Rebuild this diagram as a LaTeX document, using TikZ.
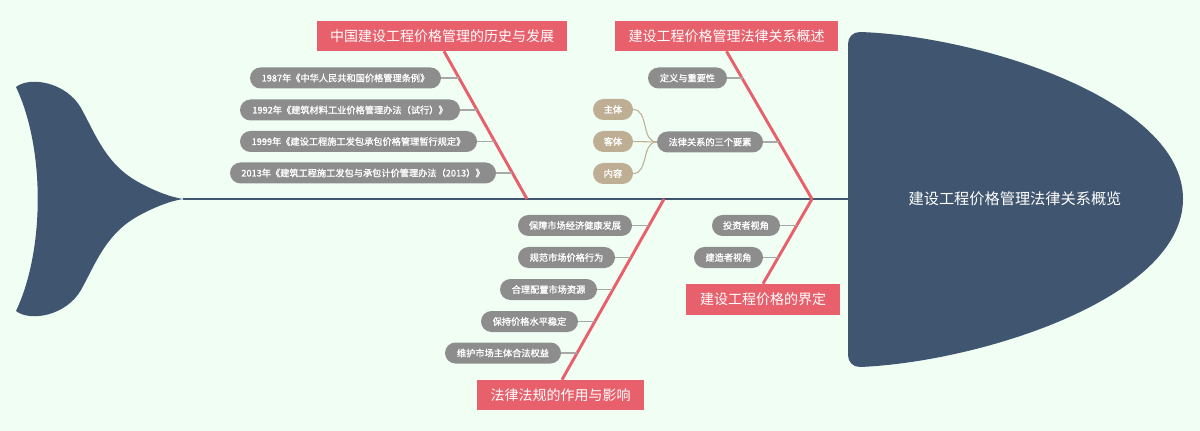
\documentclass[tikz,border=0pt]{standalone}
\usepackage{fontspec}
\setmainfont{Noto Sans CJK SC}
\newfontfamily\pillfont[FakeBold=1.2]{Noto Sans CJK SC}
\usetikzlibrary{shapes.misc,calc}
\definecolor{bgc}{HTML}{F1FEF4}
\definecolor{spinec}{HTML}{40556F}
\definecolor{redc}{HTML}{E8606B}
\definecolor{grayc}{HTML}{8D8D8D}
\definecolor{tanc}{HTML}{BEAF94}
\definecolor{linkc}{HTML}{A8A8A8}
\begin{document}
\begin{tikzpicture}[x=0.75pt,y=-0.75pt,
  redbox/.style={fill=redc,text=white,font=\fontsize{10.5}{12}\selectfont,minimum height=22.5pt,inner sep=0pt},
  pill/.style={rounded rectangle,fill=grayc,text=white,font=\pillfont\fontsize{6.9}{8}\selectfont,minimum height=15.75pt,inner sep=0pt},
  tanpill/.style={rounded rectangle,fill=tanc,text=white,font=\pillfont\fontsize{6.9}{8}\selectfont,minimum height=15.75pt,minimum width=30pt,inner sep=0pt},
  branch/.style={draw=redc,line width=2.2pt},
  link/.style={draw=linkc,line width=0.8pt},
  tanlink/.style={draw=tanc,line width=0.8pt}]
\fill[bgc] (0,0) rectangle (1200,431);
% tail
\fill[spinec] (16,87) .. controls (30,76) and (66,82) .. (81,108)
  .. controls (96,135) and (106,165) .. (140,183)
  .. controls (155,191) and (170,197) .. (183,199)
  .. controls (170,201) and (155,207) .. (140,215)
  .. controls (106,233) and (96,263) .. (81,290)
  .. controls (66,316) and (30,322) .. (16,311)
  .. controls (45,250) and (45,148) .. (16,87) -- cycle;
% head
\fill[spinec] (860,32) .. controls (980,36) and (1183,100) .. (1183,199)
  .. controls (1183,298) and (980,362) .. (860,367)
  .. controls (853,367) and (848,362) .. (848,355)
  -- (848,44) .. controls (848,37) and (853,32) .. (860,32) -- cycle;
\node[text=white,font=\fontsize{11.4}{13}\selectfont] (head) at (1015,199) {建设工程价格管理法律关系概览};
% spine
\coordinate (tail) at (183,199);
\coordinate (headl) at (848,199);
\draw[spinec,line width=1.2pt] (tail) -- (headl);
\coordinate (b1) at (527,199);
\coordinate (b2) at (812,199);
\coordinate (b3) at (664,199);
% red boxes
\node[redbox,minimum width=187.5pt] (m1) at (442,36) {中国建设工程价格管理的历史与发展};
\node[redbox,minimum width=167.25pt] (m2) at (726.5,36) {建设工程价格管理法律关系概述};
\node[redbox,minimum width=125.25pt] (m3) at (560.5,395) {法律法规的作用与影响};
\node[redbox,minimum width=115.5pt,minimum height=23.25pt] (m4) at (763,299.5) {建设工程价格的界定};
\draw[branch] ($(m1.south)+(2,0)$) -- (b1);
\draw[branch] (m2.south) -- (b2);
\draw[branch] ($(m3.north)+(1.5,0)$) -- (b3);
\draw[branch] (m4.north) -- (b2);
% branch 1 items
\node[pill,minimum width=143.25pt] (p1) at (345.5,78) {1987年《中华人民共和国价格管理条例》};
\node[pill,minimum width=165pt] (p2) at (350,110) {1992年《建筑材料工业价格管理办法（试行）》};
\node[pill,minimum width=177.75pt] (p3) at (358.5,141.5) {1999年《建设工程施工发包承包价格管理暂行规定》};
\node[pill,minimum width=199.5pt] (p4) at (363,173) {2013年《建筑工程施工发包与承包计价管理办法（2013）》};
\coordinate (j1) at (459,78);
\coordinate (j2) at (477,110);
\coordinate (j3) at (494.5,141.5);
\coordinate (j4) at (512,173);
\draw[link] (p1.east) -- (j1);
\draw[link] (p2.east) -- (j2);
\draw[link] (p3.east) -- (j3);
\draw[link] (p4.east) -- (j4);
% branch 2 items
\node[pill,minimum width=59.25pt] (q1) at (687.5,78) {定义与重要性};
\node[pill,minimum width=79.5pt] (q2) at (710,142) {法律关系的三个要素};
\coordinate (k1) at (742.5,78);
\coordinate (k2) at (779,142);
\draw[link] (q1.east) -- (k1);
\draw[link] (q2.east) -- (k2);
\node[tanpill] (t1) at (613,109.5) {主体};
\node[tanpill] (t2) at (613,141.5) {客体};
\node[tanpill] (t3) at (613,173.5) {内容};
\draw[tanlink] (t1.east) to[out=0,in=180] (q2.west);
\draw[tanlink] (t2.east) -- (q2.west);
\draw[tanlink] (t3.east) to[out=0,in=180] (q2.west);
% branch 3 items
\node[pill,minimum width=85.5pt] (r1) at (575,225.5) {保障市场经济健康发展};
\node[pill,minimum width=72.75pt] (r2) at (566.5,257.5) {规范市场价格行为};
\node[pill,minimum width=72.75pt] (r3) at (548.5,289.5) {合理配置市场资源};
\node[pill,minimum width=72.75pt] (r4) at (529.5,321.5) {保持价格水平稳定};
\node[pill,minimum width=87pt] (r5) at (503,353) {维护市场主体合法权益};
\coordinate (l1) at (649,225.5);
\coordinate (l2) at (631,257.5);
\coordinate (l3) at (613,289.5);
\coordinate (l4) at (595,321.5);
\coordinate (l5) at (577,353);
\draw[link] (r1.east) -- (l1);
\draw[link] (r2.east) -- (l2);
\draw[link] (r3.east) -- (l3);
\draw[link] (r4.east) -- (l4);
\draw[link] (r5.east) -- (l5);
% branch 4 items
\node[pill,minimum width=51pt] (s1) at (746,225.5) {投资者视角};
\node[pill,minimum width=51.75pt] (s2) at (728.5,257.5) {建造者视角};
\coordinate (n1) at (797,225.5);
\coordinate (n2) at (778.5,257.5);
\draw[link] (s1.east) -- (n1);
\draw[link] (s2.east) -- (n2);
\end{tikzpicture}
\end{document}
